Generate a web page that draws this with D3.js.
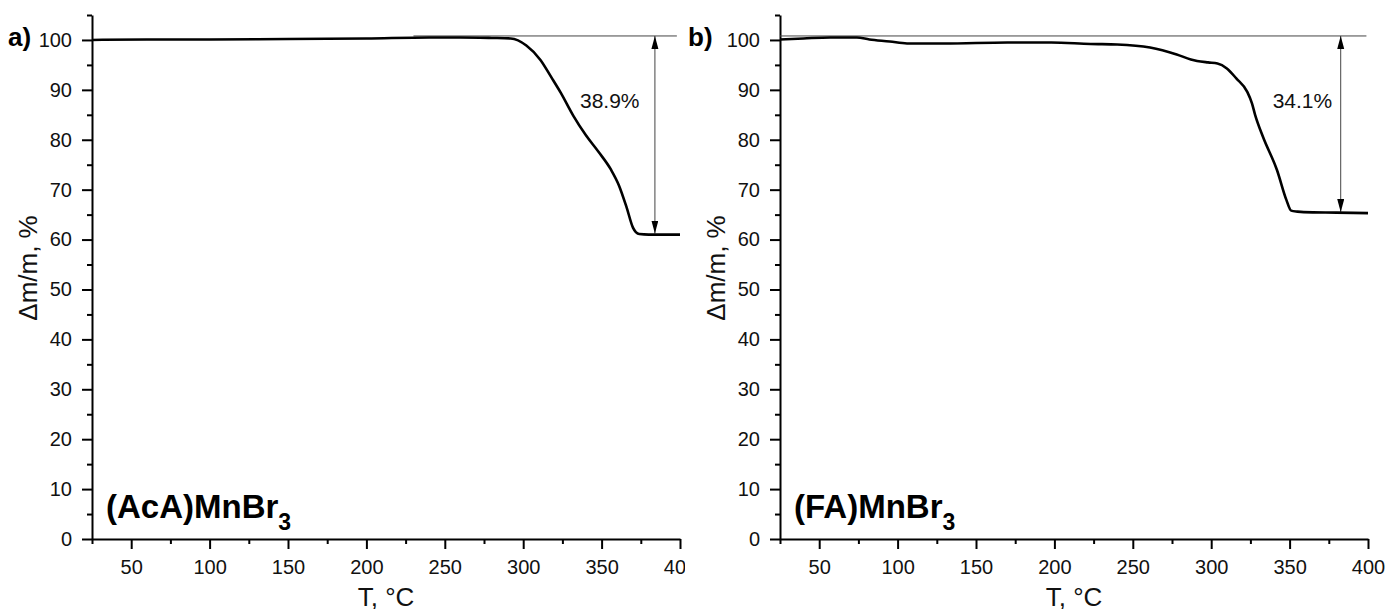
<!DOCTYPE html>
<html>
<head>
<meta charset="utf-8">
<script src="https://cdn.jsdelivr.net/npm/d3@7"></script>
<style>
  body { margin: 0; background: #fff; }
  svg { display: block; font-family: "Liberation Sans", Arial, sans-serif; }
  .axis .domain { stroke: #000; stroke-width: 2; }
  .axis .tick line { stroke: #000; stroke-width: 2; }
  .axis .tick text { font-size: 20px; fill: #111; }
</style>
</head>
<body>
<div id="chart"></div>
<script>
// (AcA)MnBr3 curve, T in C and mass in %
var tempA = [25, 60, 100, 150, 200, 240, 260, 280, 292, 302, 311, 318, 324, 332, 340, 348, 356, 361, 366, 370, 374, 380, 400];
var massA = [100.0, 100.1, 100.1, 100.2, 100.3, 100.5, 100.5, 100.4, 100.3, 98.9, 96.0, 92.5, 89.4, 84.8, 80.9, 77.6, 74.0, 70.9, 66.4, 62.4, 61.1, 61.0, 61.0];

// (FA)MnBr3 curve
var tempB = [25, 40, 57, 74, 82, 95, 106, 130, 170, 198, 223, 240, 261, 278, 287, 291, 298, 304, 310, 316, 323, 326, 328, 333, 342, 348, 351, 355, 359, 380, 400];
var massB = [100.1, 100.3, 100.5, 100.5, 100.1, 99.7, 99.3, 99.3, 99.5, 99.5, 99.2, 99.1, 98.5, 97.1, 96.1, 95.8, 95.5, 95.3, 94.3, 92.3, 89.6, 87.3, 85.0, 80.6, 73.9, 67.9, 65.8, 65.6, 65.5, 65.4, 65.3];

// ticks
var xTicks = [50, 100, 150, 200, 250, 300, 350, 400];
var xMinor = [25, 75, 125, 175, 225, 275, 325, 375];
var yTicks = [0, 10, 20, 30, 40, 50, 60, 70, 80, 90, 100];
var yMinor = [5, 15, 25, 35, 45, 55, 65, 75, 85, 95, 105];

// labels and mass loss annotations
var panelLabels = ["a)", "b)"];
var compounds = ["(AcA)MnBr", "(FA)MnBr"];
var lossLabels = ["38.9%", "34.1%"];
var lossTop = [100.8, 100.8];
var lossBottom = [61.2, 65.5];
var lossT = [384, 382.6];     // T where the arrow sits
var lineStart = [230, 25];    // thin 100% line
var lineEnd = [398, 399];
var labelT = [336.2, 339.2];

var W = 1389, H = 609;
var plotTop = 15, plotBottom = 539, plotW = 588;
var origins = [92, 780];

var svg = d3.select("#chart").append("svg")
    .attr("width", W)
    .attr("height", H);

var defs = svg.append("defs");
// left panel is cut at the right edge like the original figure
defs.append("clipPath").attr("id", "clipA")
    .append("rect").attr("x", 0).attr("y", 0).attr("width", 685).attr("height", H);

defs.append("marker")
    .attr("id", "head")
    .attr("markerUnits", "userSpaceOnUse")
    .attr("markerWidth", 13)
    .attr("markerHeight", 8)
    .attr("refX", 13)
    .attr("refY", 3.5)
    .attr("orient", "auto-start-reverse")
    .append("path")
    .attr("d", "M0,0 L13,3.5 L0,7 Z")
    .attr("fill", "#000");

function drawPanel(i, temps, masses) {
    var ox = origins[i];
    var x = d3.scaleLinear().domain([25, 400]).range([ox, ox + plotW]);
    var y = d3.scaleLinear().domain([0, 105]).range([plotBottom, plotTop]);

    var g = svg.append("g");
    if (i === 0) g.attr("clip-path", "url(#clipA)");

    // x axis
    g.append("g").attr("class", "axis")
        .attr("transform", "translate(0," + plotBottom + ")")
        .call(d3.axisBottom(x).tickValues(xTicks).tickSize(10).tickPadding(11).tickSizeOuter(0));
    g.append("g").attr("class", "axis")
        .attr("transform", "translate(0," + plotBottom + ")")
        .call(d3.axisBottom(x).tickValues(xMinor).tickSize(5).tickFormat("").tickSizeOuter(0))
        .select(".domain").remove();

    // y axis
    g.append("g").attr("class", "axis")
        .attr("transform", "translate(" + ox + ",0)")
        .call(d3.axisLeft(y).tickValues(yTicks).tickSize(10).tickPadding(10).tickSizeOuter(0));
    g.append("g").attr("class", "axis")
        .attr("transform", "translate(" + ox + ",0)")
        .call(d3.axisLeft(y).tickValues(yMinor).tickSize(5).tickFormat("").tickSizeOuter(0))
        .select(".domain").remove();

    // thin reference line at start mass
    g.append("line")
        .attr("x1", x(lineStart[i])).attr("x2", x(lineEnd[i]))
        .attr("y1", y(lossTop[i])).attr("y2", y(lossTop[i]))
        .attr("stroke", "#444").attr("stroke-width", 1);

    // double arrow
    g.append("line")
        .attr("x1", x(lossT[i])).attr("x2", x(lossT[i]))
        .attr("y1", y(lossTop[i])).attr("y2", y(lossBottom[i]))
        .attr("stroke", "#444").attr("stroke-width", 1)
        .attr("marker-start", "url(#head)")
        .attr("marker-end", "url(#head)");

    // TG curve
    var data = temps.map(function (t, k) { return [t, masses[k]]; });
    var line = d3.line()
        .x(function (d) { return x(d[0]); })
        .y(function (d) { return y(d[1]); })
        .curve(d3.curveMonotoneX);
    g.append("path")
        .datum(data)
        .attr("d", line)
        .attr("fill", "none")
        .attr("stroke", "#000")
        .attr("stroke-width", 2.6)
        .attr("stroke-linejoin", "round");

    // loss label
    g.append("text")
        .attr("x", x(labelT[i])).attr("y", 108)
        .attr("font-size", 21).attr("fill", "#111")
        .text(lossLabels[i]);

    // compound name
    var c = g.append("text")
        .attr("x", ox + 14).attr("y", 518)
        .attr("font-size", 33).attr("font-weight", "bold").attr("fill", "#000")
        .text(compounds[i]);
    c.append("tspan").attr("font-size", 23).attr("dy", 12).text("3");

    // panel letter
    g.append("text")
        .attr("x", ox - (i ? 92 : 84)).attr("y", 46)
        .attr("font-size", 26).attr("font-weight", "bold").attr("fill", "#000")
        .text(panelLabels[i]);

    // axis titles
    g.append("text")
        .attr("x", ox + plotW / 2).attr("y", 606)
        .attr("text-anchor", "middle")
        .attr("font-size", 26).attr("fill", "#111")
        .text("T, \u00B0C");
    g.append("text")
        .attr("transform", "translate(" + (ox - 55) + ",268) rotate(-90)")
        .attr("text-anchor", "middle")
        .attr("font-size", 26).attr("fill", "#111")
        .text("\u0394m/m, %");
}

drawPanel(0, tempA, massA);
drawPanel(1, tempB, massB);
</script>
</body>
</html>
